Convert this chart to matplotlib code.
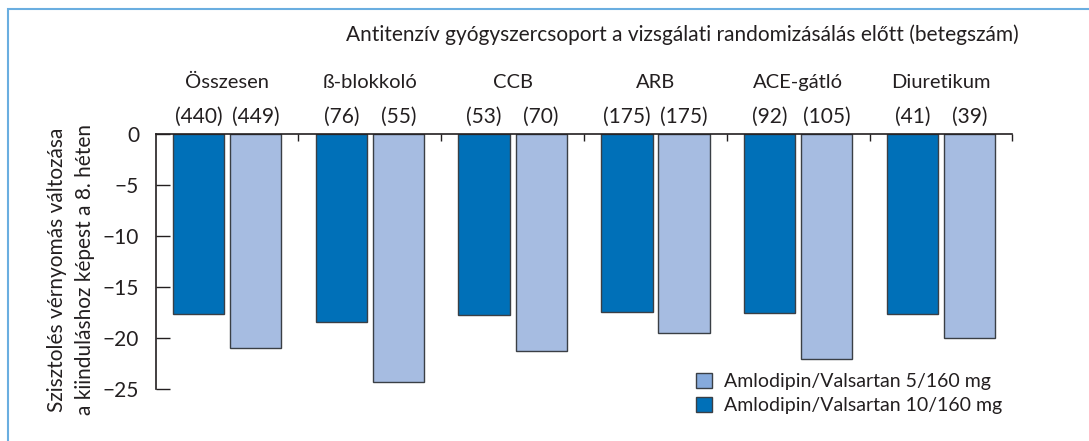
import numpy as np
import matplotlib
matplotlib.use("Agg")
import matplotlib.pyplot as plt
from matplotlib.patches import Patch, Rectangle

# ── data ────────────────────────────────────────────────────────────
groups = ["Összesen", "ß-blokkoló", "CCB", "ARB", "ACE-gátló", "Diuretikum"]
n_10 = ["440", "76", "53", "175", "92", "41"]
n_5 = ["449", "55", "70", "175", "105", "39"]
change_10 = [-17.6, -18.4, -17.7, -17.4, -17.5, -17.6]
change_5 = [-21.0, -24.3, -21.3, -19.5, -22.1, -20.0]

DARK = "#0070b8"
LIGHT = "#a6bce1"
LEG_LIGHT = "#86aadc"
EDGE = "#3a3f45"
TXT = "#231f20"

plt.rcParams.update({
    "font.family": ["Lato", "DejaVu Sans"],
    "font.size": 14,
    "text.color": TXT,
    "axes.edgecolor": "#231f20",
    "xtick.color": "#231f20",
    "ytick.color": TXT,
})

fig = plt.figure(figsize=(10.89, 4.41), dpi=100)
ax = fig.add_axes([0.143, 0.118, 0.7866, 0.5775])

x = np.arange(len(groups)) + 0.5
w = 0.36
ax.bar(x - 0.2, change_10, width=w, color=DARK, edgecolor=EDGE, linewidth=1.0)
ax.bar(x + 0.2, change_5, width=w, color=LIGHT, edgecolor=EDGE, linewidth=1.0)

ax.set_xlim(0, 6)
ax.set_ylim(-25, 0)
for s in ["bottom", "right"]:
    ax.spines[s].set_visible(False)
ax.spines["top"].set_linewidth(1.2)
ax.spines["left"].set_linewidth(1.2)

ax.xaxis.tick_top()
ax.set_xticks(np.arange(1, 7))
ax.tick_params(axis="x", direction="in", length=5, width=1.0, labeltop=False)
ax.set_yticks([0, -5, -10, -15, -20, -25])
ax.tick_params(axis="y", direction="in", length=10, width=1.0, pad=12, labelsize=15)

# group labels and patient counts above the axis
tr = matplotlib.transforms.blended_transform_factory(ax.transData, fig.transFigure)
for xi, g, a, b in zip(x, groups, n_10, n_5):
    ax.text(xi, 0.814, g, transform=tr, ha="center", va="center", fontsize=14.5)
    ax.text(xi - 0.2, 0.7347, f"({a})", transform=tr, ha="center", va="center", fontsize=15)
    ax.text(xi + 0.2, 0.7347, f"({b})", transform=tr, ha="center", va="center", fontsize=15)

fig.text(0.627, 0.9206, "Antitenzív gyógyszercsoport a vizsgálati randomizásálás előtt (betegszám)",
         ha="center", va="center", fontsize=15)

fig.text(0.052, 0.388, "Szisztolés vérnyomás változása", rotation=90,
         ha="center", va="center", fontsize=15)
fig.text(0.078, 0.388, "a kiinduláshoz képest a 8. héten", rotation=90,
         ha="center", va="center", fontsize=15)

handles = [Patch(facecolor=LEG_LIGHT, edgecolor=EDGE, linewidth=1.0),
           Patch(facecolor=DARK, edgecolor=EDGE, linewidth=1.0)]
fig.legend(handles, ["Amlodipin/Valsartan 5/160 mg", "Amlodipin/Valsartan 10/160 mg"],
           loc="upper left", bbox_to_anchor=(0.639, 0.155), frameon=False,
           fontsize=14, handlelength=0.85, handleheight=0.85, handletextpad=0.6,
           labelspacing=0.35, borderpad=0, borderaxespad=0)

# light blue frame (left and top edge visible)
fig.patches.append(Rectangle((8 / 1089, -0.1), 1.2, 1.1 - 9 / 441, transform=fig.transFigure,
                             fill=False, edgecolor="#6aaee0", linewidth=1.5))

fig.savefig("out.png", dpi=100)
